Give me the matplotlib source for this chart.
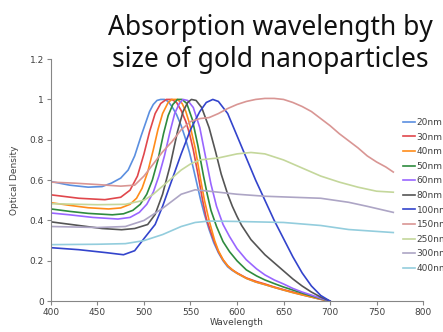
import matplotlib
matplotlib.use("Agg")
import matplotlib.pyplot as plt

# ---- data (wavelength in nm, optical density) ----
x20 = [400, 420, 440, 455, 465, 475, 483, 490, 497, 503, 506, 510, 514, 518, 522, 526, 530, 535, 540, 545, 549, 553, 557, 561, 565, 570, 575, 580, 585, 590, 595, 600, 610, 620, 630, 640, 650, 660, 670, 680, 690, 700]
y20 = [0.593, 0.575, 0.565, 0.568, 0.585, 0.61, 0.65, 0.72, 0.82, 0.90, 0.94, 0.975, 0.995, 1.0, 1.0, 0.99, 0.965, 0.925, 0.87, 0.80, 0.735, 0.66, 0.58, 0.50, 0.43, 0.355, 0.29, 0.24, 0.20, 0.17, 0.152, 0.138, 0.113, 0.095, 0.082, 0.068, 0.055, 0.043, 0.031, 0.02, 0.009, 0.0]

x30 = [400, 430, 458, 475, 485, 493, 500, 506, 512, 518, 524, 530, 535, 540, 545, 549, 553, 558, 563, 567, 572, 576, 580, 585, 590, 595, 600, 610, 621, 630, 640, 650, 660, 670, 680, 690, 700]
y30 = [0.527, 0.51, 0.503, 0.515, 0.55, 0.62, 0.73, 0.84, 0.93, 0.98, 1.0, 1.0, 0.985, 0.945, 0.89, 0.83, 0.75, 0.63, 0.50, 0.41, 0.34, 0.29, 0.245, 0.205, 0.175, 0.155, 0.14, 0.115, 0.097, 0.085, 0.07, 0.057, 0.045, 0.033, 0.022, 0.01, 0.0]

x40 = [400, 420, 440, 462, 475, 485, 492, 498, 504, 510, 515, 520, 526, 530, 536, 541, 545, 549, 555, 561, 565, 570, 576, 580, 585, 590, 595, 600, 610, 620, 630, 640, 650, 660, 670, 680, 690, 700]
y40 = [0.488, 0.475, 0.463, 0.457, 0.462, 0.48, 0.51, 0.56, 0.64, 0.75, 0.85, 0.93, 0.985, 1.0, 1.0, 0.98, 0.94, 0.88, 0.76, 0.60, 0.50, 0.40, 0.30, 0.25, 0.205, 0.175, 0.155, 0.138, 0.113, 0.095, 0.082, 0.068, 0.055, 0.042, 0.031, 0.02, 0.009, 0.0]

x50 = [400, 420, 440, 466, 478, 488, 496, 503, 509, 515, 521, 526, 531, 536, 541, 546, 552, 558, 564, 568, 572, 578, 585, 592, 600, 610, 621, 630, 640, 650, 660, 670, 680, 690, 700]
y50 = [0.457, 0.445, 0.435, 0.428, 0.433, 0.45, 0.48, 0.53, 0.60, 0.70, 0.83, 0.92, 0.975, 1.0, 1.0, 0.98, 0.90, 0.77, 0.62, 0.53, 0.45, 0.37, 0.295, 0.245, 0.20, 0.155, 0.125, 0.105, 0.087, 0.07, 0.055, 0.04, 0.026, 0.012, 0.0]

x60 = [400, 420, 445, 472, 485, 495, 503, 510, 516, 522, 528, 533, 538, 542, 547, 553, 560, 566, 572, 578, 585, 592, 600, 610, 621, 630, 640, 650, 660, 670, 680, 690, 700]
y60 = [0.437, 0.428, 0.415, 0.407, 0.415, 0.44, 0.48, 0.54, 0.62, 0.72, 0.84, 0.93, 0.98, 1.0, 0.995, 0.96, 0.86, 0.72, 0.58, 0.47, 0.38, 0.32, 0.26, 0.205, 0.16, 0.13, 0.105, 0.085, 0.063, 0.045, 0.03, 0.014, 0.0]

x80 = [400, 430, 455, 476, 490, 504, 512, 520, 528, 536, 542, 547, 551, 556, 562, 570, 577, 583, 590, 595, 600, 605, 610, 615, 621, 630, 640, 650, 660, 670, 680, 690, 700]
y80 = [0.393, 0.375, 0.36, 0.354, 0.36, 0.38, 0.43, 0.53, 0.67, 0.84, 0.94, 0.985, 1.0, 0.995, 0.96, 0.86, 0.74, 0.63, 0.53, 0.47, 0.42, 0.375, 0.34, 0.305, 0.275, 0.23, 0.19, 0.15, 0.11, 0.075, 0.045, 0.02, 0.0]

x100 = [400, 430, 460, 478, 490, 500, 512, 520, 530, 540, 550, 560, 567, 574, 580, 590, 600, 610, 620, 630, 640, 650, 660, 670, 680, 690, 700]
y100 = [0.265, 0.255, 0.24, 0.23, 0.25, 0.31, 0.38, 0.47, 0.60, 0.73, 0.85, 0.94, 0.985, 1.0, 0.99, 0.93, 0.82, 0.71, 0.60, 0.50, 0.40, 0.31, 0.22, 0.14, 0.075, 0.028, 0.0]

x150 = [400, 425, 450, 475, 490, 500, 510, 520, 530, 540, 550, 560, 570, 580, 590, 600, 610, 620, 630, 640, 650, 660, 670, 680, 690, 700, 710, 720, 730, 740, 750, 760, 768]
y150 = [0.59, 0.585, 0.578, 0.57, 0.575, 0.62, 0.68, 0.74, 0.79, 0.85, 0.89, 0.905, 0.91, 0.93, 0.955, 0.975, 0.99, 1.0, 1.005, 1.005, 1.0, 0.985, 0.965, 0.94, 0.905, 0.87, 0.83, 0.795, 0.76, 0.72, 0.69, 0.665, 0.64]

x250 = [400, 450, 480, 500, 510, 520, 530, 540, 550, 560, 580, 600, 615, 630, 650, 670, 690, 710, 730, 750, 768]
y250 = [0.483, 0.478, 0.48, 0.50, 0.53, 0.57, 0.61, 0.65, 0.68, 0.70, 0.71, 0.73, 0.737, 0.73, 0.70, 0.66, 0.62, 0.59, 0.565, 0.545, 0.54]

x300 = [400, 450, 480, 500, 520, 540, 555, 570, 600, 630, 660, 690, 720, 740, 768]
y300 = [0.37, 0.365, 0.37, 0.40, 0.46, 0.53, 0.552, 0.545, 0.53, 0.52, 0.515, 0.51, 0.49, 0.47, 0.44]

x400 = [400, 450, 480, 500, 520, 540, 555, 570, 600, 650, 690, 720, 768]
y400 = [0.28, 0.282, 0.285, 0.30, 0.33, 0.37, 0.39, 0.397, 0.395, 0.39, 0.375, 0.355, 0.34]

labels = ['20nm', '30nm', '40nm', '50nm', '60nm', '80nm', '100nm', '150nm', '250nm', '300nm', '400nm']
colors = ['#5B8FE0', '#E0474C', '#FF8C1A', '#2E8B3E', '#9966FF', '#555555',
          '#3344CC', '#D99694', '#C4D79B', '#ADA5C5', '#93CDDD']
series = [(x20, y20), (x30, y30), (x40, y40), (x50, y50), (x60, y60), (x80, y80),
          (x100, y100), (x150, y150), (x250, y250), (x300, y300), (x400, y400)]

xticks = [400, 450, 500, 550, 600, 650, 700, 750, 800]
yticks = [0, 0.2, 0.4, 0.6, 0.8, 1, 1.2]
yticklabels = ['0', '0.2', '0.4', '0.6', '0.8', '1', '1.2']

fig = plt.figure(figsize=(4.43, 3.32), dpi=100)
ax = fig.add_axes([0.115, 0.093, 0.84, 0.729])

for (xs, ys), c, lab in zip(series, colors, labels):
    ax.plot(xs, ys, color=c, lw=1.2, label=lab)

ax.set_xlim(400, 800)
ax.set_ylim(0, 1.2)
ax.set_xticks(xticks)
ax.set_yticks(yticks)
ax.set_yticklabels(yticklabels)
for s in ['top', 'right']:
    ax.spines[s].set_visible(False)
for s in ['left', 'bottom']:
    ax.spines[s].set_color('#868686')
    ax.spines[s].set_linewidth(0.8)
ax.tick_params(direction='out', length=3, width=0.8, color='#868686',
               labelsize=6.5, labelcolor='#404040', pad=2)
ax.set_xlabel('Wavelength', fontsize=6.5, color='#404040', labelpad=1)
ax.set_ylabel('Optical Density', fontsize=6.5, color='#404040', labelpad=8)

leg = ax.legend(loc='upper left', bbox_to_anchor=(403 / 443, 1 - 118 / 332),
                bbox_transform=fig.transFigure, frameon=False, fontsize=6.5,
                handlelength=1.3, handletextpad=0.2, labelspacing=0.62,
                borderaxespad=0, borderpad=0)
for t in leg.get_texts():
    t.set_color('#404040')

fig.text(270 / 443, 1 - 14 / 332, 'Absorption wavelength by\nsize of gold nanoparticles',
         ha='center', va='top', fontsize=19, family='Noto Sans',
         linespacing=1.2, color='#111111')

fig.savefig('out.png', dpi=100)
